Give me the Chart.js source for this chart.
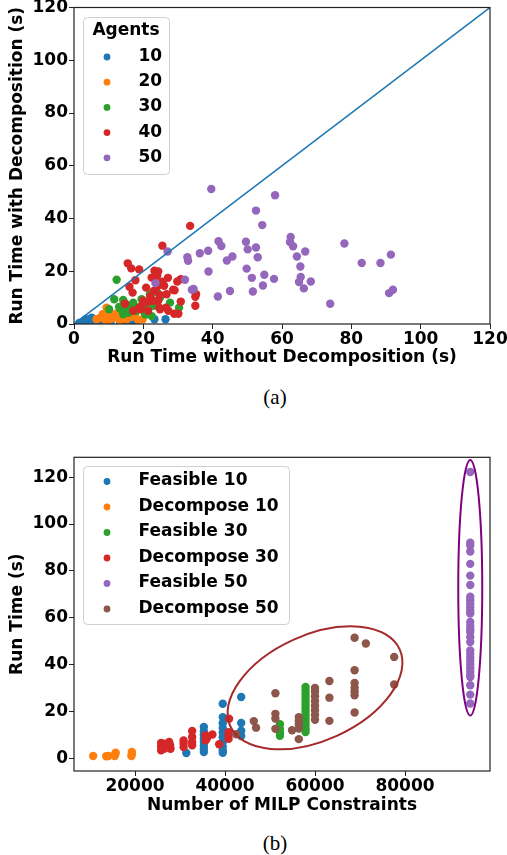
<!DOCTYPE html>
<html lang="en">
<head>
<meta charset="UTF-8">
<title>Run time with and without decomposition</title>
<style>
  body { margin: 0; background: #fff; }
  #page { position: relative; width: 507px; height: 855px; overflow: hidden; }
  .box { position: absolute; left: 0; width: 507px; }
  #boxA { top: 0; height: 368px; }
  #boxB { top: 440px; height: 376px; }
  .caption {
    position: absolute;
    font-family: "Liberation Serif", serif;
    font-size: 21px;
    line-height: 21px;
    transform: translateX(-50%);
  }
</style>
</head>
<body>
<div id="page">
  <div class="box" id="boxA"><canvas id="chartA"></canvas></div>
  <div class="caption" style="left:275px; top:387px">(a)</div>
  <div class="box" id="boxB"><canvas id="chartB"></canvas></div>
  <div class="caption" style="left:275px; top:832.5px">(b)</div>
</div>

<script src="https://cdn.jsdelivr.net/npm/chart.js"></script>
<script>
// ---- chart (a): run time with vs without decomposition, by number of agents ----
const agentLabels = ['10', '20', '30', '40', '50'];
const agents10 = [[1.5,0.4],[2.2,0.5],[2.7,1.1],[3.0,0.3],[3.4,1.8],[3.6,1.5],[4.0,0.6],[4.6,1.8],[5.1,2.4],
  [5.5,0.8],[6.1,1.1],[7.0,0.8],[8.0,0.5],[10.5,0.5],[13.3,0.3],[15.5,0.5],[17.1,0.8],[23.2,1.8],[26.4,1.8]];
const agents20 = [[6.5,1.8],[7.5,2.4],[8.3,3.7],[8.5,2.4],[9.2,1.1],[9.2,3.0],[9.4,6.2],[10.0,4.5],[10.4,1.8],
  [11.3,2.4],[11.8,3.7],[12.3,2.4],[12.5,4.2],[13.3,1.4],[13.3,3.0],[14.0,4.0],[14.7,2.4],[15.2,1.8],[16.2,3.0],
  [16.6,2.7],[17.6,3.0],[18.5,1.5],[19.8,1.8],[20.2,5.2]];
const agents30 = [[10.1,5.6],[11.6,9.4],[12.3,16.8],[13.0,6.5],[13.3,5.8],[14.2,3.7],[14.2,9.1],[14.7,7.9],[15.2,5.0],
  [15.7,4.3],[16.6,5.0],[16.6,7.1],[17.1,8.1],[18.1,5.0],[18.5,6.2],[19.5,9.4],[20.5,3.7],[20.5,6.2],[21.4,3.7],
  [21.9,11.3],[22.4,3.0],[22.9,6.9],[23.8,7.5],[24.0,11.9],[24.8,10.0],[27.7,8.1],[30.3,6.2]];
const agents40 = [[14.7,7.7],[15.5,23.0],[16.0,14.1],[16.5,21.1],[16.9,11.9],[17.1,5.0],[17.7,16.6],[18.8,20.7],
  [18.8,6.2],[19.2,5.6],[19.5,6.9],[20.0,8.8],[20.8,13.8],[21.4,8.4],[21.4,5.0],[22.0,10.5],[22.4,17.6],[22.9,8.8],
  [23.0,12.5],[23.2,20.2],[23.4,17.6],[24.0,18.3],[24.0,14.1],[24.3,19.9],[24.3,8.8],[24.6,6.2],[24.8,11.0],
  [24.8,5.6],[25.5,29.7],[25.5,16.0],[26.0,14.5],[26.5,6.2],[26.7,11.3],[27.1,17.5],[27.2,5.0],[28.6,13.0],
  [29.0,12.8],[28.9,3.9],[29.8,16.1],[30.1,3.9],[30.8,17.0],[30.8,8.5],[33.5,37.2],[35.0,10.3],[35.0,6.9],[35.2,11.3]];
const agents50 = [[23.5,15.5],[27.0,27.5],[32.0,16.8],[32.7,25.3],[32.9,24.0],[34.0,13.0],[34.5,13.3],[36.3,26.8],
  [38.7,27.8],[38.8,19.9],[39.6,51.2],[41.5,10.4],[41.7,31.4],[42.5,29.6],[44.1,24.1],[45.0,12.5],[45.7,25.6],
  [49.6,31.2],[49.8,21.0],[50.1,28.3],[51.3,17.5],[51.6,12.3],[52.5,43.0],[52.5,29.0],[53.0,25.3],[54.3,37.5],
  [54.5,14.6],[54.9,18.7],[57.7,17.1],[58.0,48.8],[62.5,33.0],[62.3,31.1],[63.2,29.5],[64.3,25.6],[64.9,15.9],
  [65.3,21.8],[65.4,17.8],[66.3,13.5],[66.7,27.5],[68.3,16.1],[73.9,7.7],[78.0,30.5],[83.0,23.1],[88.4,23.1],
  [90.9,11.7],[91.4,26.3],[92.0,13.0]];
const diagonal = [0, 120];
const ticksA = [0, 20, 40, 60, 80, 100, 120];

// ---- chart (b): run time vs number of MILP constraints ----
const seriesLabelsB = ['Feasible 10', 'Decompose 10', 'Feasible 30', 'Decompose 30', 'Feasible 50', 'Decompose 50'];
const feasible10 = [[31400,2.3],[35300,2.7],[35300,4.0],[35300,5.5],[35300,7.0],[35300,8.5],[35300,10.0],[35300,11.5],
  [35300,13.4],[39500,2.4],[39500,3.4],[39500,5.0],[39500,7.0],[39500,9.0],[39500,11.0],[39500,13.0],[39500,15.0],
  [39500,17.6],[39500,23.3],[43600,9.5],[43600,11.8],[43600,15.1],[43600,26.2]];
const decompose10 = [[10700,1.0],[13600,0.9],[14100,1.0],[15500,1.0],[15600,1.8],[15700,2.4],[19200,1.0],[19300,1.8],[19300,2.7]];
const feasible30 = [[52200,9.6],[52200,11.0],[52200,12.5],[52200,14.6],[57900,11.2],[57900,12.5],[57900,14.0],
  [57900,15.5],[57900,17.0],[57900,18.5],[57900,20.0],[57900,21.5],[57900,23.0],[57900,24.5],[57900,26.0],
  [57900,27.5],[57900,29.0],[57900,30.5]];
const decompose30 = [[25800,3.4],[25800,5.0],[25800,6.6],[26600,6.3],[26600,4.2],[27600,7.0],[27800,5.6],[27900,4.1],
  [30800,4.8],[30800,6.3],[30800,7.6],[32700,5.6],[32700,7.0],[32700,9.1],[32700,11.7],[35700,7.7],[35700,9.8],
  [36000,8.6],[37200,10.2],[38700,6.0],[40800,8.3],[40800,9.8],[40800,11.2],[40900,16.9]];
const feasible50 = [[94500,122.2],[94500,92.0],[94500,90.8],[94500,88.3],[94500,83.0],[94500,78.0],[94500,74.0],
  [94500,69.0],[94500,67.5],[94500,66.0],[94500,64.5],[94500,63.0],[94500,61.8],[94500,58.2],[94500,56.5],
  [94500,55.0],[94500,53.9],[94500,51.8],[94500,49.7],[94500,46.1],[94500,44.5],[94500,43.0],[94500,41.5],
  [94500,40.0],[94500,38.5],[94500,37.0],[94500,35.5],[94500,34.7],[94500,31.2],[94500,27.2],[94500,23.4]];
const decompose50 = [[42500,10.3],[46400,15.9],[46900,13.1],[51200,27.8],[51200,19.0],[51200,17.0],[51200,12.6],
  [54900,12.0],[56400,8.2],[56400,12.7],[56400,14.5],[56400,16.0],[56400,17.6],[60000,16.5],[60000,18.5],
  [60000,20.5],[60000,22.5],[60000,24.5],[60000,26.5],[60000,28.5],[60000,30.0],[63200,16.0],[63200,25.9],
  [63200,33.0],[68800,19.6],[68800,26.9],[68800,28.5],[68800,30.2],[68800,32.2],[68800,37.6],[68800,51.5],
  [71300,49.0],[77600,31.5],[77600,43.3]];
const xTicksB = [20000, 40000, 60000, 80000];
const yTicksB = [0, 20, 40, 60, 80, 100, 120];
// highlighted groups (centre in data units)
const ellipseCenters = [[60000, 30.1], [94500, 72.8]];

const colors = ['#1f77b4', '#ff7f0e', '#2ca02c', '#d62728', '#9467bd', '#8c564b'];
const FONT = { family: 'DejaVu Sans', size: 17, weight: 'bold' };

const pts = arr => arr.map(([x, y]) => ({ x, y }));

function scatterSet(label, data, i) {
  return {
    label: label,
    data: pts(data),
    backgroundColor: colors[i],
    pointRadius: 4.2,
    pointHoverRadius: 4.2,
    pointBorderWidth: 0,
    order: -i,
    clip: 0
  };
}

// box round the plot (all four spines)
const frame = {
  id: 'frame',
  afterDatasetsDraw(chart) {
    const { ctx, chartArea: a } = chart;
    ctx.save();
    ctx.strokeStyle = '#222';
    ctx.lineWidth = 1.2;
    ctx.strokeRect(a.left, a.top, a.right - a.left, a.bottom - a.top);
    ctx.restore();
  }
};

// matplotlib-like legend inside the axes
const boxLegend = {
  id: 'boxLegend',
  afterDraw(chart, args, o) {
    const { ctx, chartArea } = chart;
    const x0 = chartArea.left + o.dx, y0 = chartArea.top + o.dy;
    ctx.save();
    ctx.beginPath();
    ctx.roundRect(x0 + 0.5, y0 + 0.5, o.w, o.h, 4);
    ctx.fillStyle = 'rgba(255,255,255,0.8)';
    ctx.fill();
    ctx.strokeStyle = '#d0d0d0';
    ctx.lineWidth = 1;
    ctx.stroke();
    ctx.font = 'bold 17px "DejaVu Sans"';
    ctx.textBaseline = 'middle';
    if (o.title) {
      ctx.fillStyle = '#000';
      ctx.textAlign = 'center';
      ctx.fillText(o.title, x0 + o.w / 2, y0 + o.titleY);
    }
    const items = chart.data.datasets.filter(d => d.inLegend !== false);
    items.forEach((d, i) => {
      const y = y0 + o.firstY + i * o.step;
      ctx.beginPath();
      ctx.arc(x0 + o.markerX, y, 3.4, 0, 2 * Math.PI);
      ctx.fillStyle = d.backgroundColor;
      ctx.fill();
      ctx.fillStyle = '#000';
      ctx.textAlign = 'left';
      ctx.fillText(d.label, x0 + o.textX, y - 0.5);
    });
    ctx.restore();
  }
};

const ellipses = {
  id: 'ellipses',
  afterDatasetsDraw(chart, args, o) {
    if (!o.items) return;
    const { ctx, scales: { x, y } } = chart;
    o.items.forEach((e, i) => {
      const [cx, cy] = ellipseCenters[i];
      ctx.save();
      ctx.beginPath();
      ctx.ellipse(x.getPixelForValue(cx), y.getPixelForValue(cy), e.rx, e.ry, -e.angle * Math.PI / 180, 0, 2 * Math.PI);
      ctx.strokeStyle = e.color;
      ctx.lineWidth = 2;
      ctx.stroke();
      ctx.restore();
    });
  }
};

function axis(min, max, ticks, title, isX, size, titlePad) {
  return {
    type: 'linear',
    min: min,
    max: max,
    afterBuildTicks: s => { s.ticks = ticks.map(v => ({ value: v })); },
    afterFit: s => {
      if (isX) { s.height = size; s.paddingLeft = 0; s.paddingRight = 0; }
      else { s.width = size; s.paddingTop = 0; s.paddingBottom = 0; }
    },
    ticks: { font: FONT, color: '#000', padding: isX ? 0 : 1, callback: v => String(v) },
    grid: { drawOnChartArea: false, drawTicks: true, tickLength: 5, color: '#222', lineWidth: 1 },
    border: { display: false },
    title: { display: true, text: title, font: FONT, color: '#000', padding: titlePad }
  };
}

new Chart(document.getElementById('chartA'), {
  type: 'scatter',
  data: {
    datasets: [agents10, agents20, agents30, agents40, agents50]
      .map((d, i) => scatterSet(agentLabels[i], d, i))
      .concat([{
        label: 'y = x',
        inLegend: false,
        data: pts([[diagonal[0], diagonal[0]], [diagonal[1], diagonal[1]]]),
        showLine: true,
        borderColor: '#1f77b4',
        borderWidth: 1.5,
        pointRadius: 0,
        pointHoverRadius: 0,
        order: -10
      }])
  },
  options: {
    responsive: true,
    maintainAspectRatio: false,
    animation: false,
    devicePixelRatio: 1,
    layout: { padding: { top: 7.5, right: 17, bottom: 0, left: 0 } },
    scales: {
      x: axis(0, 120, ticksA, 'Run Time without Decomposition (s)', true, 44, { top: 0, bottom: 0 }),
      y: axis(0, 120, ticksA, 'Run Time with Decomposition (s)', false, 74, { top: 7.3, bottom: 0 })
    },
    plugins: {
      legend: { display: false },
      tooltip: { enabled: false },
      boxLegend: { dx: 9, dy: 9.5, w: 86, h: 157, title: 'Agents', titleY: 14, firstY: 40, step: 25.2, markerX: 24, textX: 55.5 }
    }
  },
  plugins: [frame, boxLegend]
});

new Chart(document.getElementById('chartB'), {
  type: 'scatter',
  data: {
    datasets: [feasible10, decompose10, feasible30, decompose30, feasible50, decompose50]
      .map((d, i) => scatterSet(seriesLabelsB[i], d, i))
  },
  options: {
    responsive: true,
    maintainAspectRatio: false,
    animation: false,
    devicePixelRatio: 1,
    layout: { padding: { top: 17.3, right: 17, bottom: 0, left: 0 } },
    scales: {
      x: axis(6444, 98889, xTicksB, 'Number of MILP Constraints', true, 45, { top: 0, bottom: 0 }),
      y: axis(-5.4, 128.5, yTicksB, 'Run Time (s)', false, 74, { top: 7.3, bottom: 0 })
    },
    plugins: {
      legend: { display: false },
      tooltip: { enabled: false },
      boxLegend: { dx: 9, dy: 8.7, w: 206, h: 158, title: null, firstY: 15.5, step: 25.5, markerX: 24, textX: 55.5 },
      ellipses: {
        items: [
          { rx: 93, ry: 52.7, angle: 24.4, color: '#a52a2a' },
          { rx: 12, ry: 127.8, angle: 0, color: '#800080' }
        ]
      }
    }
  },
  plugins: [frame, ellipses, boxLegend]
});
</script>
</body>
</html>
